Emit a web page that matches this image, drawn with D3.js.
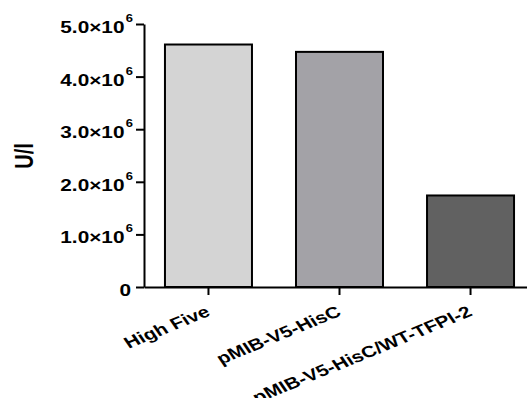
<!DOCTYPE html>
<html>
<head>
<meta charset="utf-8">
<script src="https://cdn.jsdelivr.net/npm/d3@7"></script>
<style>
    body { margin: 0; background: #fff; }
    svg { display: block; font-family: Arial, "Liberation Sans", sans-serif; font-weight: bold; }
</style>
</head>
<body>
<div id="chart"></div>
<script>
// bar chart data
const categories = ["High Five", "pMIB-V5-HisC", "pMIB-V5-HisC/WT-TFPI-2"];
const values = [4.61e6, 4.47e6, 1.74e6];
const barColors = ["#d4d4d4", "#a3a2a7", "#616161"];
const yTicks = [0, 1e6, 2e6, 3e6, 4e6, 5e6];
const yTickLabels = ["0", "1.0×10", "2.0×10", "3.0×10", "4.0×10", "5.0×10"];
const yLabel = "U/l";

const W = 527, H = 398;
const margin = { top: 24, right: -8, bottom: 111, left: 144 };
const SX = 1.3; // text in the picture is stretched horizontally

const svg = d3.select("#chart")
    .append("svg")
    .attr("width", W)
    .attr("height", H);

const x = d3.scaleBand()
    .domain(categories)
    .range([margin.left, W - margin.right])
    .paddingInner(0.336)
    .paddingOuter(0.16);

const y = d3.scaleLinear()
    .domain([0, 5e6])
    .range([H - margin.bottom, margin.top]);

// bars
svg.append("g")
    .selectAll("rect")
    .data(values)
    .join("rect")
    .attr("x", (d, i) => x(categories[i]))
    .attr("y", d => y(d))
    .attr("width", x.bandwidth())
    .attr("height", d => y(0) - y(d))
    .attr("fill", (d, i) => barColors[i])
    .attr("stroke", "#000")
    .attr("stroke-width", 2);

// y axis
const yAxis = svg.append("g")
    .attr("transform", `translate(${margin.left},0)`)
    .call(d3.axisLeft(y).tickValues(yTicks).tickSize(8).tickSizeOuter(0)
        .tickFormat((d, i) => yTickLabels[i]));

yAxis.selectAll("text")
    .attr("x", 0)
    .attr("dy", 0)
    .attr("font-size", 16)
    .attr("font-weight", "bold")
    .attr("fill", "#000")
    .attr("text-anchor", "end")
    .each(function(d, i) {
        const t = d3.select(this);
        const isZero = d === 0;
        t.attr("transform", `translate(${isZero ? -13 : -11},${8.5}) scale(${SX},1)`);
        if (!isZero) {
            t.append("tspan")
                .attr("font-size", 10)
                .attr("dy", -11)
                .attr("dx", 1)
                .text("6");
        }
    });

// x axis (band ticks already sit at the band centre)
const xAxis = svg.append("g")
    .attr("transform", `translate(0,${y(0)})`)
    .call(d3.axisBottom(x).tickSize(8).tickSizeOuter(0));

xAxis.selectAll("text")
    .attr("y", 0)
    .attr("dy", 0)
    .attr("font-size", 16)
    .attr("font-weight", "bold")
    .attr("fill", "#000")
    .attr("text-anchor", "end")
    .attr("transform", `translate(3,28) scale(${SX},1) rotate(-28)`);

svg.selectAll(".domain, .tick line")
    .attr("stroke", "#000")
    .attr("stroke-width", 2);

// y axis title
svg.append("text")
    .attr("transform", `translate(33,156) scale(${SX},1) rotate(-90)`)
    .attr("text-anchor", "middle")
    .attr("font-size", 20)
    .attr("fill", "#000")
    .text(yLabel);
</script>
</body>
</html>
